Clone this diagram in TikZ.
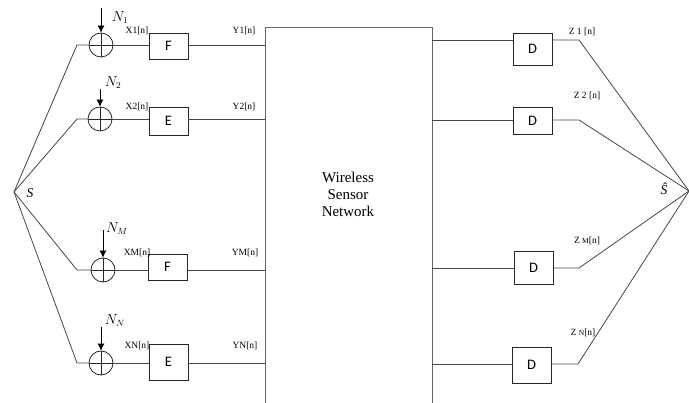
\documentclass[tikz,border=0pt]{standalone}
\usepackage{fontspec}
\setmainfont{Liberation Serif}
\newfontfamily\boxfont{Carlito}
\usetikzlibrary{arrows.meta}
\begin{document}
\begin{tikzpicture}[x=1pt,y=-1pt,
  ln/.style={draw=black!72, line width=0.8pt},
  blk/.style={draw=black!85, line width=0.8pt, minimum width=39pt, minimum height=26pt, inner sep=0pt, font=\boxfont\fontsize{14.5}{14.5}\selectfont},
  sumnode/.style={circle, draw=black!85, line width=0.8pt, minimum size=24pt, inner sep=0pt,
    path picture={\draw[black!85, line width=0.8pt] (path picture bounding box.north) -- (path picture bounding box.south)
      (path picture bounding box.west) -- (path picture bounding box.east);}},
  sig/.style={font=\fontsize{9.5}{9.5}\selectfont, inner sep=0pt},
  noise/.style={font=\fontsize{13.5}{13.5}\selectfont, inner sep=0pt},
  arr/.style={-{Latex[length=7pt,width=7pt]}, line width=0.8pt, draw=black}
]
\useasboundingbox[fill=white] (0,0) rectangle (689,403);

% source and estimate points
\coordinate (s) at (14,192);
\node[font=\fontsize{13.5}{13.5}\selectfont\itshape, inner sep=0pt] (slabel) at (30,193) {S};
\coordinate (shat) at (689,191);
\node[font=\fontsize{13.5}{13.5}\selectfont\itshape, inner sep=0pt] (shatlabel) at (664,189) {Ŝ};

% wireless sensor network
\node[draw=black!60, line width=0.9pt, minimum width=167pt, minimum height=390pt, inner sep=0pt, anchor=north] (wsn) at (348.5,27) {};
\node[align=center, font=\fontsize{15}{17}\selectfont, inner sep=0pt] (wsnlabel) at (348,194) {Wireless\\Sensor\\Network};

% ---------- left branches ----------
% branch 1
\coordinate (b1) at (77,45);
\node[sumnode] (c1) at (101,45) {};
\coordinate (a1) at (101,8);
\node[noise] (n1) at (120,18) {$N_1$};
\node[blk, minimum height=26pt] (f1) at (168.5,46) {F};
\node[sig] (x1) at (137,31) {X1[n]};
\node[sig] (y1) at (244,31) {Y1[n]};
% branch 2
\coordinate (b2) at (77,119);
\node[sumnode] (c2) at (100,119) {};
\coordinate (a2) at (100,89);
\node[noise] (n2) at (113,83) {$N_2$};
\node[blk, minimum height=28pt] (f2) at (168.5,121) {E};
\node[sig] (x2) at (137,107) {X2[n]};
\node[sig] (y2) at (244,107) {Y2[n]};
% branch M
\coordinate (bm) at (77,270);
\node[sumnode] (cm) at (103,270) {};
\coordinate (am) at (103,230);
\node[noise] (nm) at (117,229) {$N_M$};
\node[blk, minimum height=26pt] (fm) at (167.5,267) {F};
\node[sig] (xm) at (137,253) {XM[n]};
\node[sig] (ym) at (245,253) {YM[n]};
% branch N
\coordinate (bn) at (77,363);
\node[sumnode] (cn) at (101,363) {};
\coordinate (an) at (101,327);
\node[noise] (nn) at (115,321) {$N_N$};
\node[blk, minimum height=36pt] (fn) at (168.5,362) {E};
\node[sig] (xn) at (137,346) {XN[n]};
\node[sig] (yn) at (245,346) {YN[n]};

\foreach \k in {1,2,m,n}{
  \draw[ln] (s) -- (b\k) -- (c\k.west);
  \draw[ln] (c\k.east) -- (c\k.east -| f\k.west);
  \draw[ln] (c\k.east -| f\k.east) -- (c\k.east -| wsn.west);
  \draw[arr] (a\k) -- (c\k.north);
}

% ---------- right branches ----------
\node[blk, minimum height=32pt] (d1) at (532.5,49) {D};
\coordinate (r1) at (579,40);
\node[sig] (z1) at (582,32) {Z 1 [n]};
\node[blk, minimum height=27pt] (d2) at (532.5,120.5) {D};
\coordinate (r2) at (579,120);
\node[sig] (z2) at (587,96) {Z 2 [n]};
\node[blk, minimum height=33pt] (dm) at (533.5,267.5) {D};
\coordinate (rm) at (579,268);
\node[sig] (zm) at (587,241) {Z {\fontsize{7.5}{7.5}\selectfont M}[n]};
\node[blk, minimum height=36pt] (dn) at (531.5,365) {D};
\coordinate (rn) at (578,364);
\node[sig] (zn) at (583,333) {Z {\fontsize{7.5}{7.5}\selectfont N}[n]};

\foreach \k in {1,2,m,n}{
  \draw[ln] (r\k -| wsn.east) -- (r\k -| d\k.west);
  \draw[ln] (r\k -| d\k.east) -- (r\k) -- (shat);
}
\end{tikzpicture}
\end{document}
